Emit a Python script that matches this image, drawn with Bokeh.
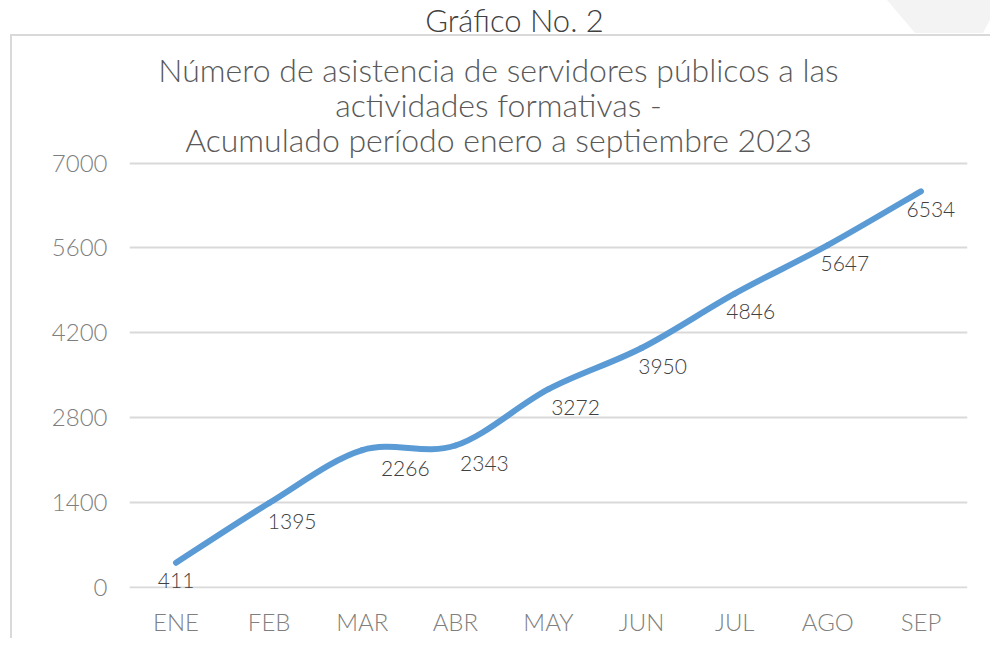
from bokeh.plotting import figure
from bokeh.models import Range1d, FixedTicker, Label, ColumnDataSource, LabelSet
from bokeh.embed import file_html
from bokeh.resources import INLINE
from bokeh.core.properties import value

# ---------------- data ----------------
months = ["ENE", "FEB", "MAR", "ABR", "MAY", "JUN", "JUL", "AGO", "SEP"]
asistencia = [411, 1395, 2266, 2343, 3272, 3950, 4846, 5647, 6534]
y_ticks = [0, 1400, 2800, 4200, 5600, 7000]
chart_label = "Gráfico No. 2"
title_lines = ["Número de asistencia de servidores públicos a las",
               "actividades formativas -",
               "Acumulado período enero a septiembre 2023"]

# ---------------- styles / layout ----------------
FONT = "Lato Light"
LINE_COLOR = "#5B9BD5"
GRID_COLOR = "#d9d9d9"
W, H = 990, 638
FRAME_L, FRAME_R, FRAME_B = 129, 967, 590
PLOT_PX = 426.7                     # pixel height of the 0..7000 band
label_dx = [0, 23, 43, 29, 27, 21, 16, 17, 10]   # pixel nudges for data labels

xs = list(range(len(months)))
y_top = y_ticks[-1] * FRAME_B / PLOT_PX   # frame reaches the top so titles fit inside

svg_bg = ("<svg xmlns='http://www.w3.org/2000/svg' width='1000' height='660'>"
          "<polygon points='887,0 1000,0 983,33 915,33' fill='%23f3f3f3'/>"
          "<path d='M11 660 V35 H1000' fill='none' stroke='%23d9d9d9' stroke-width='2'/>"
          "</svg>")

p = figure(width=W, height=H, output_backend="svg", toolbar_location=None,
           x_range=Range1d(-0.5, len(months) - 0.5), y_range=Range1d(-14, y_top),
           min_border_left=FRAME_L, min_border_right=W - FRAME_R, min_border_top=0,
           min_border_bottom=H - FRAME_B)
p.styles = {"background": f'url("data:image/svg+xml;utf8,{svg_bg}") no-repeat 0 0, #ffffff'}
p.outline_line_color = None
p.background_fill_alpha = 0
p.border_fill_alpha = 0

p.xgrid.visible = False
p.ygrid.ticker = FixedTicker(ticks=y_ticks)
p.ygrid.grid_line_color = GRID_COLOR
p.ygrid.grid_line_width = 2

p.yaxis.ticker = FixedTicker(ticks=y_ticks)
p.yaxis.axis_line_color = None
p.yaxis.major_tick_line_color = None
p.yaxis.minor_tick_line_color = None
p.yaxis.major_tick_out = 0
p.yaxis.major_tick_in = 0
p.yaxis.major_label_text_font = FONT
p.yaxis.major_label_text_font_size = "24px"
p.yaxis.major_label_text_color = "#7f7f7f"
p.yaxis.major_label_standoff = 22

p.xaxis.ticker = FixedTicker(ticks=xs)
p.xaxis.major_label_overrides = {i: m for i, m in enumerate(months)}
p.xaxis.axis_line_color = None
p.xaxis.major_tick_line_color = None
p.xaxis.minor_tick_line_color = None
p.xaxis.major_tick_out = 0
p.xaxis.major_tick_in = 0
p.xaxis.major_label_text_font = FONT
p.xaxis.major_label_text_font_size = "24px"
p.xaxis.major_label_text_color = "#7f7f7f"
p.xaxis.major_label_standoff = 18

# smooth line (Catmull-Rom style bezier segments through the data points)
n = len(xs)
x0, y0, x1, y1, cx0, cy0, cx1, cy1 = [], [], [], [], [], [], [], []
for i in range(n - 1):
    pa = (xs[max(i - 1, 0)], asistencia[max(i - 1, 0)])
    pb = (xs[i], asistencia[i])
    pc = (xs[i + 1], asistencia[i + 1])
    pd = (xs[min(i + 2, n - 1)], asistencia[min(i + 2, n - 1)])
    x0.append(pb[0]); y0.append(pb[1]); x1.append(pc[0]); y1.append(pc[1])
    cx0.append(pb[0] + (pc[0] - pa[0]) / 6.0); cy0.append(pb[1] + (pc[1] - pa[1]) / 6.0)
    cx1.append(pc[0] - (pd[0] - pb[0]) / 6.0); cy1.append(pc[1] - (pd[1] - pb[1]) / 6.0)
p.bezier(x0=x0, y0=y0, x1=x1, y1=y1, cx0=cx0, cy0=cy0, cx1=cx1, cy1=cy1,
         line_color=LINE_COLOR, line_width=6, line_cap="round")

src = ColumnDataSource(dict(x=xs, y=asistencia, t=[str(v) for v in asistencia], dx=label_dx))
labels = LabelSet(x="x", y="y", text="t", source=src, x_offset="dx", y_offset=-18,
                  text_align="center", text_baseline="middle",
                  text_font=value(FONT), text_font_size="21px", text_color="#404040")
p.add_layout(labels)

# titles (screen units measured from the frame's bottom-left corner)
p.add_layout(Label(x=514 - FRAME_L, y=FRAME_B - 21, x_units="screen", y_units="screen",
                   text=chart_label, text_align="center", text_baseline="alphabetic",
                   text_font=FONT, text_font_size="31px", text_color="#404040"))
title_baselines = [71, 106, 141]
for line, base in zip(title_lines, title_baselines):
    p.add_layout(Label(x=498 - FRAME_L, y=FRAME_B - base, x_units="screen", y_units="screen",
                       text=line, text_align="center", text_baseline="alphabetic",
                       text_font=FONT, text_font_size="32px", text_color="#595959"))

open("out.html", "w").write(file_html(p, INLINE))
